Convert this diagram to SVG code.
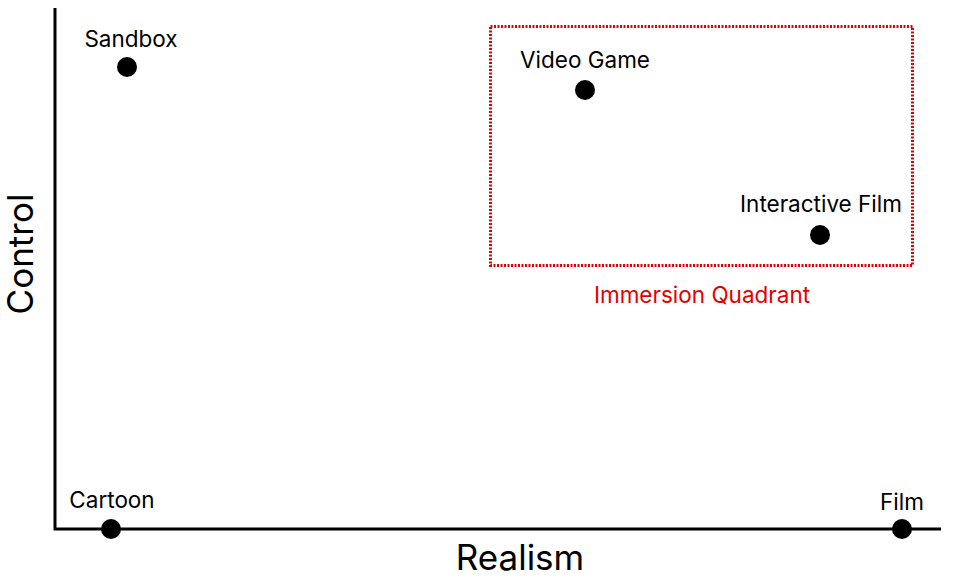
<svg xmlns="http://www.w3.org/2000/svg" width="961" height="577" viewBox="0 0 961 577">
<style>
text{font-family:Inter,"Noto Sans",sans-serif;fill:#000}
.lbl{font-size:22.5px;text-anchor:middle}
.ax{font-size:35px;text-anchor:middle}
.dot{fill:#000}
.axis{stroke:#000;stroke-width:3;fill:none}
.quad{fill:none;stroke:#e30000;stroke-width:3;stroke-dasharray:2 1.5}
</style>
<rect width="961" height="577" fill="#fff"/>
<g id="axes">
<path class="axis" d="M55,8 V529 H941"/>
</g>
<g id="quadrant">
<rect class="quad" x="490.5" y="26.5" width="422" height="239"/>
<text class="lbl" x="702" y="303" style="fill:#e30000">Immersion Quadrant</text>
</g>
<g id="sandbox"><circle class="dot" cx="127" cy="67" r="10"/><text class="lbl" x="131" y="47">Sandbox</text></g>
<g id="videogame"><circle class="dot" cx="585" cy="90" r="10"/><text class="lbl" x="585" y="68">Video Game</text></g>
<g id="interactivefilm"><circle class="dot" cx="820" cy="235" r="10"/><text class="lbl" x="821" y="212">Interactive Film</text></g>
<g id="cartoon"><circle class="dot" cx="111" cy="529" r="10"/><text class="lbl" x="112" y="508">Cartoon</text></g>
<g id="film"><circle class="dot" cx="902" cy="529" r="10"/><text class="lbl" x="902" y="510">Film</text></g>
<g id="labels">
<text class="ax" x="520" y="570">Realism</text>
<text class="ax" transform="translate(33,254) rotate(-90)">Control</text>
</g>
</svg>
